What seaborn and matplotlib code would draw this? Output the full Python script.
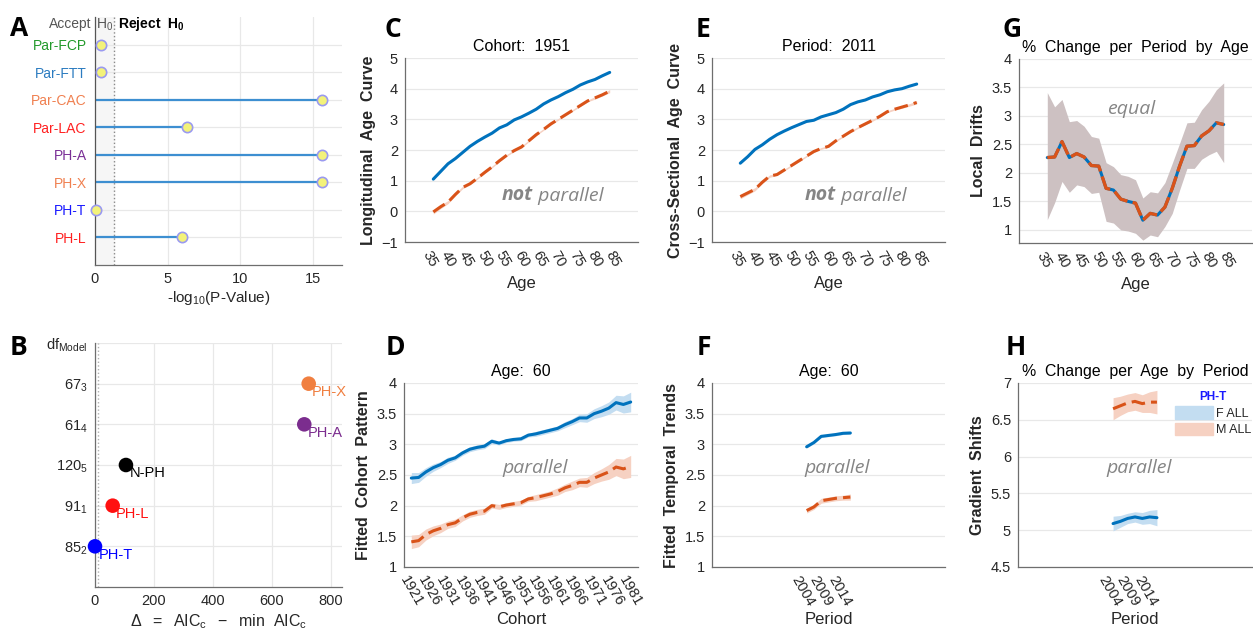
import numpy as np
import pandas as pd
import matplotlib
matplotlib.use('Agg')
import matplotlib.pyplot as plt
from matplotlib.patches import Patch
from matplotlib.ticker import FuncFormatter
import seaborn as sns

# ---------------- data ----------------
models_A = ['Par-FCP', 'Par-FTT', 'Par-CAC', 'Par-LAC', 'PH-A', 'PH-X', 'PH-T', 'PH-L']
neglog10_p = [0.4, 0.4, 15.65, 6.3, 15.65, 15.65, 0.1, 6.0]
colors_A = ['#22992a', '#2b7bc0', '#f08050', '#ff2020', '#7a2f96', '#f08050', '#1a1aff', '#ff2020']

models_B = ['PH-X', 'PH-A', 'N-PH', 'PH-L', 'PH-T']
delta_aicc = [725, 710, 105, 60, 0]
rows_B = [1, 2, 3, 4, 5]
df_labels_B = [r'$\mathregular{df_{Model}}$', r'$\mathregular{67_3}$', r'$\mathregular{61_4}$',
               r'$\mathregular{120_5}$', r'$\mathregular{91_1}$', r'$\mathregular{85_2}$']
colors_B = ['#f07f40', '#7b2d8e', '#000000', '#ff1010', '#0000ff']

ages = list(range(36, 85, 2))
c_blue = [1.05, 1.30, 1.55, 1.72, 1.92, 2.12, 2.28, 2.42, 2.55, 2.72, 2.82, 2.98, 3.08,
          3.20, 3.33, 3.50, 3.63, 3.74, 3.87, 3.98, 4.12, 4.22, 4.30, 4.42, 4.53]
c_red = [-0.02, 0.15, 0.30, 0.55, 0.78, 0.90, 1.08, 1.27, 1.45, 1.65, 1.83, 1.98, 2.10,
         2.30, 2.50, 2.67, 2.85, 3.00, 3.15, 3.30, 3.45, 3.60, 3.70, 3.80, 3.92]
c_red_ci = [0.07, 0.06, 0.05, 0.04, 0.04, 0.03, 0.03, 0.03, 0.03, 0.03, 0.03, 0.03, 0.03,
            0.03, 0.03, 0.03, 0.03, 0.03, 0.03, 0.03, 0.03, 0.03, 0.04, 0.04, 0.05]

e_blue = [1.57, 1.78, 2.02, 2.17, 2.35, 2.50, 2.62, 2.73, 2.83, 2.93, 2.97, 3.08, 3.15,
          3.22, 3.33, 3.48, 3.57, 3.63, 3.73, 3.80, 3.90, 3.96, 4.00, 4.08, 4.15]
e_red = [0.48, 0.60, 0.72, 0.95, 1.15, 1.20, 1.35, 1.50, 1.65, 1.80, 1.95, 2.05, 2.12,
         2.30, 2.45, 2.60, 2.73, 2.85, 2.97, 3.10, 3.25, 3.33, 3.40, 3.47, 3.55]
e_red_ci = [0.07, 0.06, 0.05, 0.04, 0.04, 0.03, 0.03, 0.03, 0.03, 0.03, 0.03, 0.03, 0.03,
            0.03, 0.03, 0.03, 0.03, 0.03, 0.03, 0.03, 0.03, 0.03, 0.04, 0.04, 0.05]

cohorts = list(range(1921, 1982, 2))
d_blue = [2.45, 2.46, 2.55, 2.62, 2.67, 2.74, 2.78, 2.86, 2.92, 2.95, 2.97, 3.05, 3.02, 3.06,
          3.08, 3.09, 3.15, 3.17, 3.20, 3.23, 3.26, 3.32, 3.37, 3.43, 3.43, 3.50, 3.54, 3.59,
          3.68, 3.65, 3.69]
d_red = [1.41, 1.43, 1.53, 1.59, 1.63, 1.69, 1.72, 1.80, 1.86, 1.89, 1.91, 2.00, 1.98, 2.01,
         2.03, 2.05, 2.11, 2.13, 2.16, 2.19, 2.23, 2.29, 2.33, 2.38, 2.38, 2.45, 2.50, 2.55,
         2.63, 2.60, 2.64]
d_blue_ci = [0.09, 0.08, 0.07, 0.06, 0.05, 0.05, 0.04, 0.04, 0.04, 0.04, 0.04, 0.04, 0.03, 0.03,
             0.03, 0.03, 0.03, 0.04, 0.04, 0.04, 0.04, 0.05, 0.05, 0.06, 0.07, 0.08, 0.09, 0.10,
             0.12, 0.14, 0.16]
d_red_ci = [0.11, 0.10, 0.09, 0.08, 0.07, 0.06, 0.06, 0.05, 0.05, 0.05, 0.05, 0.04, 0.04, 0.04,
            0.04, 0.04, 0.04, 0.05, 0.05, 0.05, 0.06, 0.06, 0.07, 0.07, 0.08, 0.09, 0.10, 0.12,
            0.14, 0.16, 0.18]

periods = list(range(2005, 2018, 2))
f_blue = [2.96, 3.03, 3.13, 3.145, 3.16, 3.18, 3.185]
f_red = [1.92, 1.98, 2.08, 2.10, 2.12, 2.13, 2.14]
f_blue_ci = [0.02, 0.02, 0.02, 0.02, 0.02, 0.02, 0.02]
f_red_ci = [0.04, 0.04, 0.04, 0.04, 0.04, 0.04, 0.05]

g_drift = [2.27, 2.28, 2.55, 2.27, 2.34, 2.28, 2.13, 2.12, 1.73, 1.70, 1.54, 1.50, 1.47,
           1.17, 1.29, 1.26, 1.40, 1.73, 2.12, 2.47, 2.48, 2.65, 2.74, 2.88, 2.85]
g_upper = [3.41, 3.16, 3.29, 2.90, 2.92, 2.82, 2.64, 2.61, 2.18, 2.11, 1.97, 1.94, 1.88,
           1.56, 1.67, 1.65, 1.83, 2.17, 2.52, 2.88, 2.89, 3.11, 3.26, 3.46, 3.58]
g_lower = [1.18, 1.48, 1.85, 1.66, 1.79, 1.76, 1.64, 1.66, 1.15, 1.12, 1.00, 0.98, 0.94,
           0.82, 0.91, 0.88, 1.06, 1.29, 1.70, 2.08, 2.08, 2.24, 2.32, 2.38, 2.18]

h_blue = [5.09, 5.12, 5.16, 5.18, 5.16, 5.18, 5.17]
h_red = [6.65, 6.69, 6.73, 6.75, 6.72, 6.74, 6.74]
h_blue_ci = [0.10, 0.08, 0.07, 0.07, 0.08, 0.09, 0.11]
h_red_ci = [0.15, 0.13, 0.12, 0.12, 0.12, 0.14, 0.16]

# ---------------- style ----------------
sns.set_style('white')
plt.rcParams['font.family'] = ['Liberation Sans', 'DejaVu Sans']
plt.rcParams['mathtext.fontset'] = 'custom'
plt.rcParams['mathtext.rm'] = 'Liberation Sans'
plt.rcParams['mathtext.it'] = 'Liberation Sans:italic'
plt.rcParams['mathtext.bf'] = 'Liberation Sans:bold'

BLUE = '#0072BD'
RED = '#D95319'
BLUE_BAND = '#c3ddf1'
RED_BAND = '#f6d1c2'
GRID = '#e8e8e8'
SPINE = '#6e6e6e'
TXT = '#262626'
ANNO = '#858585'

W, H = 1253, 632
fig = plt.figure(figsize=(W / 100, H / 100), dpi=100)


def rect(l, t, r, b):
    return [l / W, 1 - b / H, (r - l) / W, (b - t) / H]


def style_ax(ax, xgrid=False):
    for s in ['top', 'right']:
        ax.spines[s].set_visible(False)
    for s in ['left', 'bottom']:
        ax.spines[s].set_color(SPINE)
        ax.spines[s].set_linewidth(0.9)
    ax.tick_params(direction='out', length=3, width=0.8, color=SPINE,
                   labelsize=10.5, labelcolor=TXT, pad=2)
    ax.grid(False)
    ax.yaxis.grid(True, color=GRID, lw=0.9)
    if xgrid:
        ax.xaxis.grid(True, color=GRID, lw=0.9)
    ax.set_axisbelow(True)


fmt_g = FuncFormatter(lambda v, p: ('%g' % v))


def letter(x, y, s):
    fig.text(x / W, 1 - y / H, s, fontsize=19, fontweight='bold',
             family='Open Sans', color='black', va='baseline', ha='left')


def annot(ax, x, y, bold, rest, size=14):
    if bold:
        t1 = ax.text(x, y, bold, fontsize=size, fontweight='bold', style='italic',
                     family='Open Sans', color=ANNO, va='bottom', ha='left')
        ax.annotate(rest, xy=(1, 0), xycoords=t1, fontsize=size, style='italic',
                    family='Open Sans', color=ANNO, va='bottom', ha='left')
    else:
        ax.text(x, y, rest, fontsize=size, style='italic',
                family='Open Sans', color=ANNO, va='bottom', ha='left')


def line_pair(ax, x, yb, yr, rci=None, bci=None):
    if bci is not None:
        ax.fill_between(x, np.array(yb) - np.array(bci), np.array(yb) + np.array(bci),
                        color=BLUE_BAND, lw=0, zorder=1)
    if rci is not None:
        ax.fill_between(x, np.array(yr) - np.array(rci), np.array(yr) + np.array(rci),
                        color=RED_BAND, lw=0, zorder=1)
    sns.lineplot(x=x, y=yb, ax=ax, color=BLUE, lw=2.2, zorder=3)
    sns.lineplot(x=x, y=yr, ax=ax, color=RED, lw=2.2, zorder=3)
    ax.lines[-1].set_dashes((4.5, 2))
    ax.set_xlabel('')
    ax.set_ylabel('')


# ---------------- Panel A ----------------
axA = fig.add_axes(rect(95, 17, 342, 265))
style_ax(axA, xgrid=True)
ypos = list(range(1, len(models_A) + 1))
axA.axvspan(0, 1.301, color='#f6f6f6', zorder=0)
axA.axvline(1.301, color='#8a8a8a', ls=':', lw=1.0, zorder=1)
axA.hlines(ypos, 0, neglog10_p, color='#3d8fd1', lw=1.6, zorder=2)
dfA = pd.DataFrame({'x': neglog10_p, 'y': ypos})
sns.scatterplot(data=dfA, x='x', y='y', ax=axA, s=55, color='#f3f27a',
                edgecolor='#9a9af0', linewidth=1.2, zorder=4, clip_on=False)
axA.set_xlim(0, 17)
axA.set_ylim(9, 0)
axA.set_xticks([0, 5, 10, 15])
axA.set_yticks(ypos)
axA.set_yticklabels(models_A, fontsize=10)
for lab, c in zip(axA.get_yticklabels(), colors_A):
    lab.set_color(c)
axA.tick_params(axis='y', length=0, pad=6)
axA.spines['left'].set_color('#555555')
axA.set_xlabel(r'-log$_{10}$(P-Value)', fontsize=11, color=TXT, labelpad=2)
axA.set_ylabel('')
axA.text(-0.25, 0.27, 'Accept', fontsize=10, color='#555555', ha='right', va='center')
axA.text(0.1, 0.27, r'H$_0$', fontsize=10, color='#555555', ha='left', va='center')
axA.text(1.55, 0.27, r'Reject  H$_\mathbf{0}$', fontsize=10, color='black',
         fontweight='bold', ha='left', va='center')

# ---------------- Panel B ----------------
axB = fig.add_axes(rect(95, 343, 342, 587))
style_ax(axB, xgrid=True)
axB.axvline(10, color='#b0b0b0', ls=':', lw=1.0, zorder=1)
dfB = pd.DataFrame({'x': delta_aicc, 'y': rows_B, 'm': models_B})
sns.scatterplot(data=dfB, x='x', y='y', hue='m', palette=dict(zip(models_B, colors_B)),
                ax=axB, s=110, edgecolor='none', legend=False, zorder=4, clip_on=False)
for xv, yv, m, c in zip(delta_aicc, rows_B, models_B, colors_B):
    axB.annotate(m, xy=(xv, yv), xytext=(2.5, -6), textcoords='offset points',
                 fontsize=10.5, color=c, ha='left', va='center')
axB.set_xlim(0, 838)
axB.set_ylim(6, 0)
axB.set_xticks([0, 200, 400, 600, 800])
axB.set_yticks(range(6))
axB.set_yticklabels(df_labels_B, fontsize=10.5)
axB.set_xlabel(r'$\mathregular{\Delta\ \ =\ \ AIC_c\ \ -\ \ min\ \ AIC_c}$', fontsize=11.5,
               color=TXT, labelpad=3)
axB.set_ylabel('')

# ---------------- Panel C ----------------
axC = fig.add_axes(rect(405, 58, 638, 242))
style_ax(axC)
line_pair(axC, ages, c_blue, c_red, rci=c_red_ci)
axC.set_xlim(28.3, 91.7)
axC.set_ylim(-1, 5)
axC.set_xticks(range(35, 86, 5))
axC.set_yticks(range(-1, 6))
axC.set_xlabel('Age', fontsize=12, color=TXT, labelpad=4)
axC.set_ylabel('Longitudinal  Age  Curve', fontsize=11.5, fontweight='bold', color=TXT, labelpad=4)
axC.set_title('Cohort:  1951', fontsize=11.5, color='black', pad=5)
annot(axC, 54.7, 0.2, 'not', ' parallel')

# ---------------- Panel D ----------------
axD = fig.add_axes(rect(404, 383, 638, 567))
style_ax(axD)
line_pair(axD, cohorts, d_blue, d_red, rci=d_red_ci, bci=d_blue_ci)
axD.set_xlim(1919, 1983)
axD.set_ylim(1, 4)
axD.set_xticks(range(1921, 1982, 5))
axD.set_yticks(np.arange(1, 4.01, 0.5))
axD.yaxis.set_major_formatter(fmt_g)
axD.set_xlabel('Cohort', fontsize=12, color=TXT, labelpad=2)
axD.set_ylabel('Fitted  Cohort  Pattern', fontsize=11.5, fontweight='bold', color=TXT, labelpad=4)
axD.set_title('Age:  60', fontsize=11.5, color='black', pad=5)
annot(axD, 1945.8, 2.46, None, 'parallel')

# ---------------- Panel E ----------------
axE = fig.add_axes(rect(712, 58, 945, 242))
style_ax(axE)
line_pair(axE, ages, e_blue, e_red, rci=e_red_ci)
axE.set_xlim(28.3, 91.7)
axE.set_ylim(-1, 5)
axE.set_xticks(range(35, 86, 5))
axE.set_yticks(range(-1, 6))
axE.set_xlabel('Age', fontsize=12, color=TXT, labelpad=4)
axE.set_ylabel('Cross-Sectional  Age  Curve', fontsize=11.5, fontweight='bold', color=TXT, labelpad=4)
axE.set_title('Period:  2011', fontsize=11.5, color='black', pad=5)
annot(axE, 53.6, 0.2, 'not', ' parallel')

# ---------------- Panel F ----------------
axF = fig.add_axes(rect(712, 383, 945, 567))
style_ax(axF)
line_pair(axF, periods, f_blue, f_red, rci=f_red_ci, bci=f_blue_ci)
axF.set_xlim(1979, 2043)
axF.set_ylim(1, 4)
axF.set_xticks([2004, 2009, 2014])
axF.set_yticks(np.arange(1, 4.01, 0.5))
axF.yaxis.set_major_formatter(fmt_g)
axF.set_xlabel('Period', fontsize=12, color=TXT, labelpad=2)
axF.set_ylabel('Fitted  Temporal  Trends', fontsize=11.5, fontweight='bold', color=TXT, labelpad=4)
axF.set_title('Age:  60', fontsize=11.5, color='black', pad=5)
annot(axF, 2004.3, 2.46, None, 'parallel')

# ---------------- Panel G ----------------
axG = fig.add_axes(rect(1019, 59, 1252, 243))
style_ax(axG)
axG.fill_between(ages, g_lower, g_upper, color='#cdc1c2', lw=0, zorder=1)
sns.lineplot(x=ages, y=g_drift, ax=axG, color=BLUE, lw=2.2, zorder=3)
sns.lineplot(x=ages, y=g_drift, ax=axG, color=RED, lw=2.4, zorder=4)
axG.lines[-1].set_dashes((5, 1.6))
axG.set_xlim(28.3, 91.7)
axG.set_ylim(0.77, 4)
axG.set_xticks(range(35, 86, 5))
axG.set_yticks(np.arange(1, 4.01, 0.5))
axG.yaxis.set_major_formatter(fmt_g)
axG.set_xlabel('Age', fontsize=12, color=TXT, labelpad=4)
axG.set_ylabel('Local  Drifts', fontsize=11.5, fontweight='bold', color=TXT, labelpad=4)
axG.set_title('%  Change  per  Period  by  Age', fontsize=11.4, color='black', pad=5)
annot(axG, 52.2, 2.97, None, 'equal')

# ---------------- Panel H ----------------
axH = fig.add_axes(rect(1018, 383, 1252, 567))
style_ax(axH)
line_pair(axH, periods, h_blue, h_red, rci=h_red_ci, bci=h_blue_ci)
axH.set_xlim(1979, 2043)
axH.set_ylim(4.5, 7)
axH.set_xticks([2004, 2009, 2014])
axH.set_yticks(np.arange(4.5, 7.01, 0.5))
axH.yaxis.set_major_formatter(fmt_g)
axH.set_xlabel('Period', fontsize=12, color=TXT, labelpad=2)
axH.set_ylabel('Gradient  Shifts', fontsize=11.5, fontweight='bold', color=TXT, labelpad=4)
axH.set_title('%  Change  per  Age  by  Period', fontsize=11.4, color='black', pad=5)
annot(axH, 2003.2, 5.72, None, 'parallel')
leg = axH.legend(handles=[Patch(color=BLUE_BAND, label='F ALL'), Patch(color=RED_BAND, label='M ALL')],
                 title='PH-T', loc='upper left', bbox_to_anchor=(0.65, 0.985), frameon=False,
                 fontsize=9, handlelength=3.0, handleheight=1.2, labelspacing=0.25,
                 handletextpad=0.3, borderaxespad=0)
leg.get_title().set_color('#1a1aff')
leg.get_title().set_fontweight('bold')
leg.get_title().set_fontsize(8.5)

# rotated x tick labels
for ax in [axC, axD, axE, axF, axG, axH]:
    for lab in ax.get_xticklabels():
        lab.set_rotation(-60)
        lab.set_ha('center')
        lab.set_va('top')

# panel letters
letter(10, 36, 'A')
letter(10, 355, 'B')
letter(384, 37, 'C')
letter(386, 355, 'D')
letter(696, 37, 'E')
letter(697, 355, 'F')
letter(1002, 37, 'G')
letter(1006, 355, 'H')

fig.savefig('out.png', dpi=100)
